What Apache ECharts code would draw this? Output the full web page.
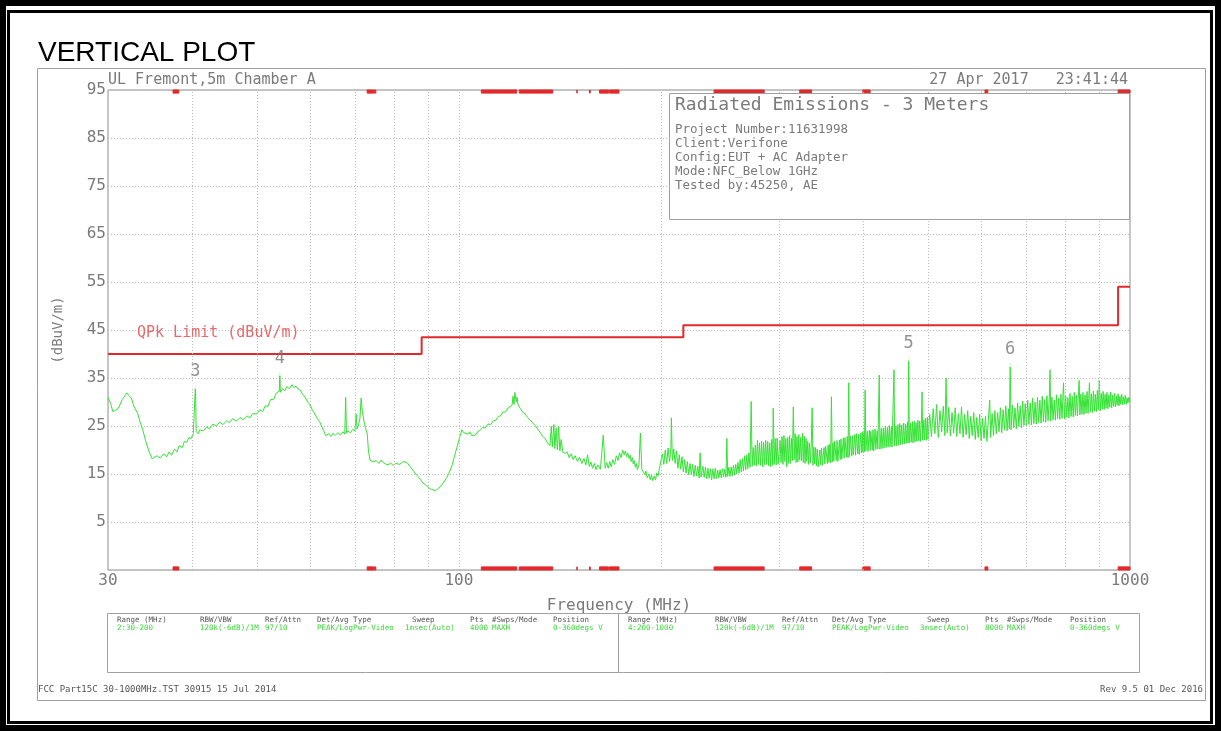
<!DOCTYPE html>
<html>
<head>
<meta charset="utf-8">
<title>Vertical Plot</title>
<script src="https://cdn.jsdelivr.net/npm/echarts@6/dist/echarts.min.js"></script>
<style>
  html, body { margin: 0; padding: 0; background: #fff; }
  #chart { width: 1221px; height: 731px; }
</style>
</head>
<body>
<div id="chart"></div>
<script>
// sweep: [MHz, dBuV/m]
var trace = [
  [30.0, 31.0], [30.3, 29.5], [30.5, 28.0], [30.8, 28.3], [31.05, 28.6], [31.3, 29.6], [31.5, 30.5], [31.8, 31.3],
  [32.0, 31.9], [32.2, 31.4], [32.5, 30.8], [32.8, 29.0], [33.2, 27.7], [33.5, 25.8], [33.8, 24.2], [34.2, 21.5],
  [34.6, 19.4], [34.9, 18.2], [35.1, 17.9], [35.5, 18.8], [35.9, 18.3], [36.3, 19.2], [36.7, 18.6], [37.0, 19.6],
  [37.3, 18.9], [37.7, 20.2], [38.0, 19.6], [38.3, 20.9], [38.7, 20.5], [39.0, 21.8], [39.3, 21.6], [39.6, 22.6],
  [39.9, 22.4], [40.2, 23.4], [40.4, 23.2], [40.5, 33.6], [40.6, 23.8], [40.9, 23.4], [41.1, 24.2], [41.6, 24.0],
  [42.1, 24.8], [42.5, 24.4], [43.0, 25.4], [43.5, 25.0], [44.0, 25.8], [44.5, 25.3], [45.1, 26.1], [45.5, 25.7],
  [46.0, 26.5], [46.6, 26.0], [47.2, 26.8], [47.7, 26.3], [48.3, 27.1], [48.8, 26.7], [49.3, 27.6], [50.0, 27.5],
  [50.5, 28.4], [51.0, 28.0], [51.5, 29.3], [51.9, 29.0], [52.4, 30.5], [53.0, 30.6], [53.4, 31.8], [53.7, 31.5],
  [54.0, 32.3], [54.1, 36.3], [54.2, 32.0], [54.6, 32.8], [55.0, 32.3], [55.4, 33.2], [55.9, 32.8], [56.4, 33.6],
  [56.8, 33.0], [57.2, 33.3], [57.6, 32.7], [58.0, 32.5], [58.5, 31.6], [59.0, 31.0], [59.5, 30.0], [60.0, 29.4],
  [60.5, 28.3], [61.0, 27.5], [61.5, 26.6], [62.0, 25.9], [62.5, 24.8], [62.9, 24.0], [63.3, 23.0], [63.6, 22.6],
  [64.0, 23.4], [64.5, 22.8], [64.9, 23.5], [65.4, 23.0], [66.0, 23.6], [66.6, 23.1], [67.2, 23.8], [67.6, 23.3],
  [67.8, 31.0], [68.0, 23.5], [68.3, 24.0], [68.9, 23.6], [69.5, 24.3], [70.0, 24.0], [70.3, 27.5], [70.5, 24.4],
  [70.8, 25.0], [71.2, 26.5], [71.5, 30.8], [71.8, 28.0], [72.2, 26.0], [72.6, 24.5], [73.0, 23.5], [73.3, 20.0],
  [73.7, 17.9], [74.2, 18.2], [74.7, 17.5], [75.3, 17.8], [76.0, 17.2], [76.6, 17.9], [77.1, 17.4], [77.7, 17.1],
  [78.4, 16.9], [79.1, 17.3], [79.8, 16.8], [80.6, 17.2], [81.6, 17.0], [82.6, 17.6], [83.7, 17.4], [84.5, 16.6],
  [85.4, 15.8], [86.2, 15.0], [86.9, 14.5], [87.7, 13.8], [88.4, 13.1], [89.1, 12.8], [89.9, 12.3], [90.7, 11.9],
  [91.5, 11.7], [92.3, 11.5], [93.1, 12.0], [93.9, 12.4], [94.7, 13.1], [95.9, 14.2], [97.1, 15.8], [97.8, 17.0],
  [98.4, 18.5], [98.9, 19.6], [99.4, 20.7], [100.2, 22.5], [101.0, 24.2],
  [101.7, 23.6], [102.4, 23.9], [103.1, 23.3], [103.8, 23.8], [104.4, 23.0], [105.0, 23.4], [105.8, 23.1], [106.7, 23.8],
  [107.6, 24.1], [108.5, 24.7], [109.5, 24.6], [110.5, 25.4], [111.5, 25.3], [112.5, 26.1], [113.5, 26.2], [114.5, 27.0],
  [115.4, 27.1], [116.3, 27.9], [117.3, 27.9], [118.3, 28.7], [119.1, 28.6], [120.0, 29.3], [120.4, 31.2], [120.8, 29.5],
  [121.2, 32.0], [121.7, 30.0], [122.1, 31.0], [122.5, 29.4], [123.4, 28.7], [124.4, 27.9], [125.5, 27.5], [126.5, 26.8],
  [127.6, 26.3], [128.7, 25.7], [129.9, 25.1], [131.0, 24.4], [132.1, 23.7], [133.2, 22.9], [134.4, 22.4], [135.5, 21.5],
  [136.7, 20.9], [137.3, 25.0], [137.8, 20.6], [138.5, 25.3], [139.0, 20.3], [139.6, 24.6], [140.2, 20.0], [140.8, 24.9],
  [141.4, 19.8], [142.0, 22.2], [142.9, 19.5], [144.0, 19.3],
  [145.0, 19.6], [146.0, 18.4], [147.0, 19.2], [148.0, 18.0], [149.0, 18.8], [150.2, 17.6], [151.3, 18.5], [152.5, 17.2],
  [153.6, 18.2], [154.6, 16.9], [155.5, 19.0], [156.4, 16.6], [157.3, 17.5], [158.2, 16.2], [159.2, 17.2], [160.1, 15.9],
  [161.0, 16.9], [162.5, 16.0], [164.1, 23.1], [165.2, 16.2], [166.0, 17.4], [166.9, 16.2], [167.8, 17.6], [168.6, 16.5],
  [169.6, 18.0], [170.6, 17.0], [171.6, 18.8], [172.6, 17.8], [173.5, 19.4], [174.5, 18.4], [175.4, 20.0], [176.3, 19.0],
  [177.0, 19.8], [177.8, 18.6], [178.5, 19.4], [179.3, 18.2], [180.0, 18.9], [180.6, 17.6], [181.3, 18.4], [181.9, 17.1],
  [182.5, 17.8], [183.2, 16.4], [183.8, 17.2], [184.5, 15.9], [185.5, 17.0], [186.4, 23.5], [187.3, 16.0], [188.2, 16.2],
  [189.2, 14.9], [190.0, 15.6], [190.8, 14.2], [191.9, 15.0], [192.8, 13.8], [193.6, 14.8], [194.5, 13.6], [195.4, 14.6],
  [196.3, 13.8], [197.2, 15.2], [198.1, 14.6], [199.0, 16.2],
  [200, 16.5], [201, 19.2], [202, 17.0], [203, 20.0], [204, 17.2], [205, 20.4], [206, 17.6], [207, 20.6],
  [207.3, 26.7], [208, 17.8], [209, 20.2], [210, 17.2], [211, 19.8], [212, 16.2], [213, 19.0], [214, 16.0],
  [215, 18.6], [216, 15.4], [217, 18.0], [218, 15.2], [219, 17.6], [220, 14.8], [221, 17.2], [222, 14.9],
  [223, 17.0], [224, 14.5], [225, 16.8], [226, 14.6], [227, 16.6], [228, 14.2], [228.8, 19.4], [229.5, 14.4],
  [231, 16.6], [232, 14.3], [233, 16.4], [234, 14.0], [235, 16.2], [236, 14.1], [237, 16.1], [238, 13.8],
  [239, 16.0], [240, 14.0], [241, 16.2], [242, 14.0], [243, 15.8], [244, 14.2], [245, 15.9], [246, 14.2],
  [247, 16.1], [248, 14.4], [249, 16.0], [250, 14.3], [250.8, 22.4], [251.5, 14.5], [252.5, 16.4], [253.5, 14.5],
  [254.5, 16.5], [255.5, 14.6], [256.5, 16.8], [257.5, 14.8], [258.5, 17.0], [259.5, 15.0], [260.5, 17.4], [261.5, 15.2],
  [262.5, 18.0], [263.5, 15.4], [264.5, 18.2], [265.5, 15.6], [266.5, 18.8], [267.5, 15.9], [268.5, 19.0], [269.5, 16.1],
  [270.5, 19.4], [271.5, 16.4], [272.6, 30.1], [273.5, 16.6], [274.5, 20.5], [275.5, 16.8], [276.5, 21.0], [277.5, 16.7],
  [278.5, 22.0], [279.5, 17.0], [280.5, 21.5], [281.5, 16.8], [282.5, 21.8], [283.5, 16.5], [284.5, 21.6], [285.5, 16.9],
  [286.5, 22.0], [287.5, 17.0], [288.5, 21.8], [289.5, 16.7], [290.5, 21.5], [291.5, 16.5], [292.5, 22.2], [293.5, 16.8],
  [294, 28.7], [295, 17.0], [296, 22.4], [297, 16.9], [298, 22.5], [299, 17.1], [300, 16.8],
  [301, 22.0], [302, 17.4], [303, 22.8], [304, 17.0], [305, 23.0], [306, 17.6], [307, 22.4], [308, 16.5],
  [309, 22.6], [310, 17.2], [311, 23.0], [312, 17.2], [313, 22.5], [314, 17.8], [315, 29.0], [316, 18.0],
  [317, 23.4], [318, 17.4], [319, 22.8], [320, 17.5], [321, 23.2], [322, 17.9], [323, 22.6], [324, 17.8],
  [325, 23.5], [326, 17.4], [327, 22.9], [328, 17.2], [329, 22.4], [330, 17.6], [331, 21.8], [332, 17.0],
  [333, 21.4], [334, 17.3], [335, 21.0], [336, 28.8], [337, 16.8], [338, 20.6], [339, 17.1], [340, 20.5],
  [341, 16.7], [342, 20.2], [343, 16.5], [345, 20.0], [346, 16.9], [347, 20.4], [348, 16.8], [350, 20.5],
  [351, 17.1], [352, 20.8], [354, 17.2], [355, 21.0], [356, 17.4], [357, 21.2], [358, 17.3], [359, 31.1],
  [360, 17.5], [361, 21.5], [362, 17.7], [363, 21.8], [365, 17.8], [366, 22.0], [367, 17.6], [369, 22.1],
  [370, 18.0], [371, 22.3], [372, 18.1], [374, 22.5], [375, 18.3], [376, 22.6], [378, 18.5], [379, 22.8],
  [380, 18.4], [381, 34.0], [382, 18.6], [383, 22.9], [385, 18.8], [386, 23.0], [387, 19.0], [389, 23.2],
  [390, 18.9], [391, 23.4], [393, 19.2], [394, 23.3], [395, 19.1], [397, 23.5], [398, 19.4], [399, 23.8],
  [400, 19.5], [401, 23.6], [402, 19.6], [403, 32.5], [404, 19.8], [406, 24.0], [407, 19.7], [409, 24.1],
  [410, 19.9], [411, 23.9], [413, 20.0], [414, 24.2], [415, 19.8], [417, 24.4], [418, 20.1], [420, 24.0],
  [421, 20.2], [423, 35.6], [424, 20.2], [426, 24.5], [427, 20.3], [429, 24.6], [430, 20.4], [432, 25.0],
  [433, 20.5], [435, 24.7], [436, 20.6], [438, 25.1], [439, 20.7], [441, 24.8], [442, 20.6], [445, 36.7],
  [446, 20.8], [448, 25.0], [449, 20.9], [451, 25.3], [452, 21.0], [454, 25.5], [455, 21.1], [457, 25.2],
  [458, 21.2], [460, 25.6], [461, 21.3], [463, 25.4], [464, 21.4], [466, 25.8], [467, 21.5], [468, 39.4],
  [469, 21.5], [471, 25.6], [472, 21.6], [474, 25.9], [475, 21.5], [477, 26.0], [478, 21.7], [480, 25.7],
  [481, 21.8], [483, 26.2], [484, 21.9], [486, 26.0], [487, 21.8], [489, 26.4], [490, 32.1], [491, 22.0],
  [493, 26.3], [494, 22.1], [496, 26.6], [497, 22.0], [499, 26.8],
  [500, 22.2], [503, 27.4], [506, 22.8], [509, 28.6], [512, 23.4], [515, 29.5], [518, 22.6], [521, 28.2],
  [524, 23.8], [527, 29.1], [530, 23.0], [532, 35.0], [534, 23.6], [537, 28.9], [540, 22.9], [543, 27.8],
  [546, 23.5], [549, 28.8], [552, 22.8], [555, 27.6], [558, 23.4], [561, 29.0], [564, 22.6], [567, 27.4],
  [570, 23.2], [573, 28.2], [576, 22.4], [579, 27.0], [582, 23.0], [585, 27.8], [588, 22.2], [591, 26.8],
  [594, 22.6], [597, 27.4], [600, 21.9], [603, 26.6], [606, 22.4], [609, 27.0], [612, 21.8], [615, 26.2],
  [618, 30.4], [620, 22.6], [623, 27.6], [626, 23.0], [629, 28.2], [632, 23.4], [635, 27.8], [638, 23.8],
  [641, 28.8], [644, 23.6], [647, 28.4], [650, 24.2], [653, 29.2], [656, 24.0], [659, 28.6], [661, 24.4],
  [663, 38.1], [665, 24.2], [668, 29.4], [671, 24.6], [674, 28.8], [677, 24.4], [680, 29.8], [683, 24.9],
  [686, 29.2], [689, 24.6], [692, 30.2], [695, 25.1], [698, 29.6], [701, 25.0], [704, 30.4], [707, 25.3],
  [710, 29.8], [713, 25.2], [716, 30.8], [719, 25.5], [722, 30.0], [725, 25.4], [728, 31.0], [731, 25.7],
  [734, 30.4], [737, 25.6], [740, 31.2], [743, 25.9], [746, 30.5], [749, 25.8], [752, 31.3], [755, 26.1],
  [758, 30.6], [760, 36.7], [762, 26.0], [765, 31.0], [768, 26.3], [771, 30.4], [774, 26.2], [777, 31.5],
  [780, 26.5], [783, 30.8], [786, 26.4], [789, 31.6], [792, 26.6], [796, 34.0], [799, 26.5], [802, 31.2],
  [805, 26.8], [808, 30.9], [811, 26.7], [814, 31.8], [817, 27.0], [820, 31.2], [823, 26.9], [826, 32.0],
  [829, 27.2], [832, 31.4], [835, 27.1], [838, 32.2], [840, 34.5], [842, 27.3], [845, 31.6], [848, 27.5],
  [851, 32.0], [854, 27.4], [857, 31.5], [860, 27.7], [863, 32.2], [866, 27.6], [870, 34.0], [873, 27.9],
  [876, 31.7], [879, 27.8], [882, 32.3], [885, 28.1], [888, 31.6], [891, 28.0], [894, 32.4], [897, 28.3],
  [900, 34.5], [903, 28.2], [906, 31.8], [909, 28.5], [912, 32.2], [915, 28.4], [918, 31.6], [921, 28.7],
  [924, 32.0], [927, 28.6], [930, 31.5], [933, 28.9], [936, 32.1], [939, 28.8], [942, 31.4], [945, 29.1],
  [948, 31.8], [951, 29.0], [954, 31.3], [957, 29.3], [960, 31.7], [963, 29.2], [966, 31.2], [969, 29.5],
  [972, 31.6], [975, 29.4], [978, 31.1], [981, 29.6], [984, 31.4], [987, 29.5], [990, 30.9], [993, 29.8],
  [996, 31.0], [1000, 30.0]
];

var limitFreq = [30, 88, 88, 216, 216, 960, 960, 1000];
var limitLevel = [40, 40, 43.5, 43.5, 46, 46, 54, 54];

// restricted bands shown as red bars on the top and bottom edges
var bandStart = [37.5, 73, 74.8, 108, 123, 149.9, 156.52475, 156.7, 162.0125, 167.72, 240, 322, 399.9, 608, 960];
var bandEnd = [38.25, 74.6, 75.2, 121.94, 138, 150.05, 156.52525, 156.9, 167.17, 173.2, 285, 335.4, 410, 614, 1000];

var markerName = ['3', '4', '5', '6'];
var markerFreq = [40.5, 54.1, 468, 663];
var markerLevel = [33.6, 36.3, 39.4, 38.1];

var gridFreq = [40, 50, 60, 70, 80, 90, 100, 200, 300, 400, 500, 600, 700, 800, 900];

var tableHead = ['Range (MHz)', 'RBW/VBW', 'Ref/Attn', 'Det/Avg Type', 'Sweep', 'Pts', '#Swps/Mode', 'Position'];
var tableRow1 = ['2:30-200', '120k(-6dB)/1M', '97/10', 'PEAK/LogPwr-Video', '1msec(Auto)', '4000', 'MAXH', '0-360degs V'];
var tableRow2 = ['4:200-1000', '120k(-6dB)/1M', '97/10', 'PEAK/LogPwr-Video', '3msec(Auto)', '8000', 'MAXH', '0-360degs V'];

var infoLines = ['Project Number:11631998', 'Client:Verifone', 'Config:EUT + AC Adapter', 'Mode:NFC_Below 1GHz', 'Tested by:45250, AE'];

var mono = '"DejaVu Sans Mono", monospace';
var grey = '#7a7a7a';
var green = '#33e333';
var red = '#e2292b';

function txt(x, y, s, size, color, align, font) {
    return {
        type: 'text', z: 30,
        style: {
            x: x, y: y, text: s, fill: color,
            font: size + 'px ' + (font || mono),
            align: align || 'left', verticalAlign: 'middle'
        }
    };
}

var bandAreas = [];
for (var i = 0; i < bandStart.length; i++) {
    bandAreas.push([{ xAxis: bandStart[i], yAxis: 94.35 }, { xAxis: bandEnd[i], yAxis: 95 }]);
    bandAreas.push([{ xAxis: bandStart[i], yAxis: -5 }, { xAxis: bandEnd[i], yAxis: -4.35 }]);
}

var graphics = [
    // outer frame
    { type: 'rect', z: 40, shape: { x: 3, y: 3, width: 1215, height: 725 }, style: { fill: 'none', stroke: '#000', lineWidth: 6 } },
    { type: 'rect', z: 40, shape: { x: 8.5, y: 11.5, width: 1203, height: 711 }, style: { fill: 'none', stroke: '#000', lineWidth: 3 } },
    { type: 'rect', z: 5, shape: { x: 37.5, y: 68.5, width: 1168, height: 632 }, style: { fill: 'none', stroke: '#a0a0a0', lineWidth: 1 } },
    txt(38, 53, 'VERTICAL PLOT', 28, '#000', 'left', '"Liberation Sans", Arial, sans-serif'),
    txt(108, 80, 'UL Fremont,5m Chamber A', 15, grey),
    txt(1128, 80, '27 Apr 2017   23:41:44', 15, grey, 'right'),
    // info box
    { type: 'rect', z: 20, shape: { x: 669.5, y: 93.5, width: 460, height: 126 }, style: { fill: '#fff', stroke: '#a0a0a0', lineWidth: 1 } },
    txt(675, 105, 'Radiated Emissions - 3 Meters', 18, grey),
    txt(137, 333, 'QPk Limit (dBuV/m)', 15, '#e66a6c'),
    // settings table
    { type: 'rect', z: 5, shape: { x: 107.5, y: 613.5, width: 1032, height: 59 }, style: { fill: 'none', stroke: '#a0a0a0', lineWidth: 1 } },
    { type: 'line', z: 5, shape: { x1: 618.5, y1: 613.5, x2: 618.5, y2: 672.5 }, style: { stroke: '#a0a0a0', lineWidth: 1 } },
    txt(38, 690, 'FCC Part15C 30-1000MHz.TST 30915 15 Jul 2014', 9, '#555'),
    txt(1203, 690, 'Rev 9.5 01 Dec 2016', 9, '#555', 'right')
];
infoLines.forEach(function (s, k) {
    graphics.push(txt(675, 130 + k * 14, s, 12.5, grey));
});
var colLeft = [117, 200, 265, 317, 405, 470, 492, 553];
var colRight = [628, 715, 782, 832, 920, 985, 1007, 1070];
tableHead.forEach(function (s, k) {
    graphics.push(txt(colLeft[k] + (k === 4 ? 7 : 0), 620, s, 7.5, '#555'));
    graphics.push(txt(colRight[k] + (k === 4 ? 7 : 0), 620, s, 7.5, '#555'));
    graphics.push(txt(colLeft[k], 628, tableRow1[k], 7.5, '#3cd63c'));
    graphics.push(txt(colRight[k], 628, tableRow2[k], 7.5, '#3cd63c'));
});

var chart = echarts.init(document.getElementById('chart'));
chart.setOption({
    backgroundColor: '#fff',
    animation: false,
    grid: { left: 108, right: 91, top: 90, bottom: 161, show: true, borderColor: '#8c8c8c', borderWidth: 1 },
    xAxis: {
        type: 'log', logBase: 10, min: 30, max: 1000,
        name: 'Frequency (MHz)', nameLocation: 'middle', nameGap: 28,
        nameTextStyle: { color: grey, fontFamily: mono, fontSize: 16 },
        axisLine: { show: false }, axisTick: { show: false },
        axisLabel: { color: grey, fontFamily: mono, fontSize: 16, margin: 3, formatter: function (v) { return Math.round(v); } },
        splitLine: { show: false }
    },
    yAxis: {
        type: 'value', min: -5, max: 95, interval: 10,
        name: '(dBuV/m)', nameLocation: 'middle', nameGap: 43, nameRotate: 90,
        nameTextStyle: { color: grey, fontFamily: mono, fontSize: 14 },
        axisLine: { show: false }, axisTick: { show: false },
        axisLabel: { color: grey, fontFamily: mono, fontSize: 16, margin: 2, formatter: function (v) { return v === -5 ? '' : v; } },
        splitLine: { lineStyle: { color: '#b8b8b8', type: [1, 2], width: 1 } }
    },
    graphic: graphics,
    series: [
        {
            type: 'line', z: 1, data: [], silent: true,
            markLine: {
                silent: true, symbol: 'none', label: { show: false },
                lineStyle: { color: '#b8b8b8', type: [1, 2], width: 1 },
                data: gridFreq.map(function (f) { return { xAxis: f }; })
            }
        },
        {
            name: 'Trace', type: 'line', z: 3, data: trace, showSymbol: false, silent: true,
            lineStyle: { color: green, width: 1 }
        },
        {
            name: 'QPk Limit', type: 'line', z: 4, showSymbol: false, silent: true,
            data: limitFreq.map(function (f, k) { return [f, limitLevel[k]]; }),
            lineStyle: { color: red, width: 2 },
            markArea: {
                silent: true,
                itemStyle: { color: red, borderColor: red, borderWidth: 1 },
                data: bandAreas
            }
        },
        {
            name: 'Markers', type: 'scatter', z: 5, silent: true,
            data: markerFreq.map(function (f, k) { return [f, markerLevel[k]]; }),
            symbol: 'emptyCircle', symbolSize: 6,
            itemStyle: { color: '#fff', borderColor: '#888', borderWidth: 1.2 },
            label: {
                show: true, position: 'top', distance: 1, color: '#777', fontFamily: mono, fontSize: 17,
                formatter: function (p) { return markerName[p.dataIndex]; }
            }
        }
    ]
});
</script>
</body>
</html>
